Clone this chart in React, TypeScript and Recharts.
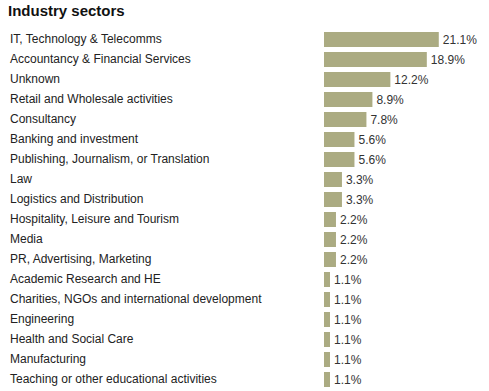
import React from 'react';
import { BarChart, Bar, XAxis, YAxis, LabelList } from 'recharts';

const sectors = [
  'IT, Technology & Telecomms',
  'Accountancy & Financial Services',
  'Unknown',
  'Retail and Wholesale activities',
  'Consultancy',
  'Banking and investment',
  'Publishing, Journalism, or Translation',
  'Law',
  'Logistics and Distribution',
  'Hospitality, Leisure and Tourism',
  'Media',
  'PR, Advertising, Marketing',
  'Academic Research and HE',
  'Charities, NGOs and international development',
  'Engineering',
  'Health and Social Care',
  'Manufacturing',
  'Teaching or other educational activities',
];

const shares = [21.1, 18.9, 12.2, 8.9, 7.8, 5.6, 5.6, 3.3, 3.3, 2.2, 2.2, 2.2, 1.1, 1.1, 1.1, 1.1, 1.1, 1.1];

const font = '"Liberation Sans", Arial, sans-serif';

const data = sectors.map((name, i) => ({ name, share: shares[i] }));

const SectorTick = (props: any) => (
  <text x={10} y={props.y} dy={4} textAnchor="start" fontSize={12} fill="#222" fontFamily={font}>
    {props.payload.value}
  </text>
);

export default function App() {
  return (
    <div style={{ position: 'absolute', left: 0, top: 0, width: 489, height: 391, background: '#fff' }}>
      <div
        style={{
          position: 'absolute',
          left: 8,
          top: 2,
          fontFamily: font,
          fontWeight: 'bold',
          fontSize: 15,
          lineHeight: '17px',
          color: '#111',
        }}
      >
        Industry sectors
      </div>
      <div style={{ position: 'absolute', left: 0, top: 0 }}>
        <BarChart
          width={489}
          height={391}
          data={data}
          layout="vertical"
          margin={{ top: 29, right: 29, bottom: 2, left: 0 }}
          barSize={15}
        >
          <XAxis type="number" domain={[0, 25]} hide />
          <YAxis
            type="category"
            dataKey="name"
            width={324}
            axisLine={false}
            tickLine={false}
            interval={0}
            tick={SectorTick}
          />
          <Bar dataKey="share" fill="#abab82" isAnimationActive={false}>
            <LabelList
              dataKey="share"
              position="right"
              offset={4}
              formatter={(v: any) => `${v}%`}
              style={{ fontSize: 12, fill: '#333', fontFamily: font }}
            />
          </Bar>
        </BarChart>
      </div>
    </div>
  );
}
